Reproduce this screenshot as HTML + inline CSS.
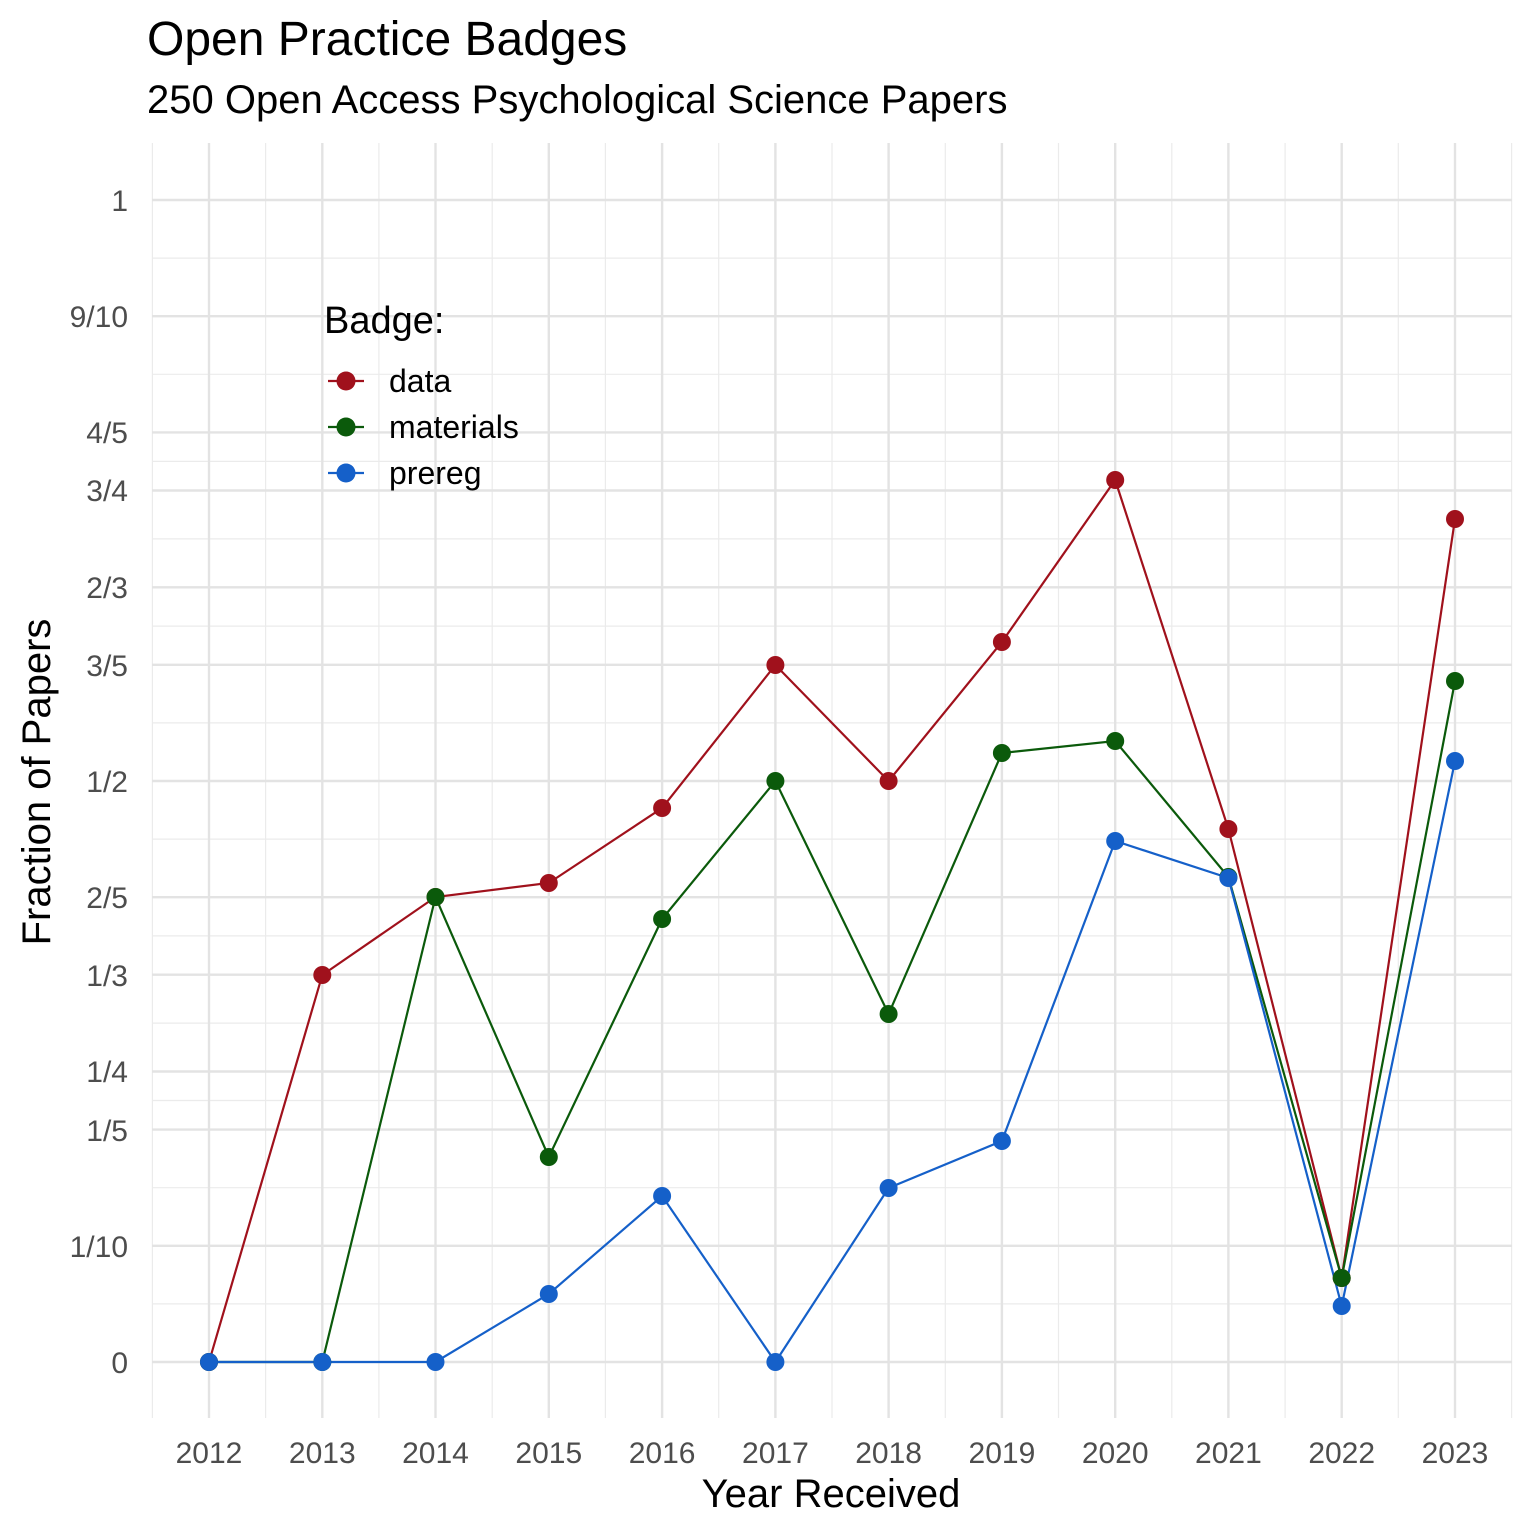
<!DOCTYPE html>
<html><head><meta charset="utf-8"><style>body{margin:0;background:#fff}svg{display:block}</style></head><body>
<svg width="1536" height="1536" xmlns="http://www.w3.org/2000/svg" font-family="Liberation Sans, Arial, sans-serif">
<rect width="1536" height="1536" fill="#fff"/>
<g stroke="#ebebeb" stroke-width="1.2">
<line x1="152" x2="1512" y1="1303.9" y2="1303.9"/><line x1="152" x2="1512" y1="1187.7" y2="1187.7"/><line x1="152" x2="1512" y1="1100.5" y2="1100.5"/><line x1="152" x2="1512" y1="1023.1" y2="1023.1"/><line x1="152" x2="1512" y1="935.9" y2="935.9"/><line x1="152" x2="1512" y1="839.1" y2="839.1"/><line x1="152" x2="1512" y1="722.9" y2="722.9"/><line x1="152" x2="1512" y1="626.1" y2="626.1"/><line x1="152" x2="1512" y1="538.9" y2="538.9"/><line x1="152" x2="1512" y1="461.4" y2="461.4"/><line x1="152" x2="1512" y1="374.3" y2="374.3"/><line x1="152" x2="1512" y1="258.1" y2="258.1"/>
<line y1="143" y2="1418" x1="152.4" x2="152.4"/><line y1="143" y2="1418" x1="265.6" x2="265.6"/><line y1="143" y2="1418" x1="378.9" x2="378.9"/><line y1="143" y2="1418" x1="492.2" x2="492.2"/><line y1="143" y2="1418" x1="605.4" x2="605.4"/><line y1="143" y2="1418" x1="718.7" x2="718.7"/><line y1="143" y2="1418" x1="832" x2="832"/><line y1="143" y2="1418" x1="945.3" x2="945.3"/><line y1="143" y2="1418" x1="1058.5" x2="1058.5"/><line y1="143" y2="1418" x1="1171.8" x2="1171.8"/><line y1="143" y2="1418" x1="1285.1" x2="1285.1"/><line y1="143" y2="1418" x1="1398.3" x2="1398.3"/><line y1="143" y2="1418" x1="1511.6" x2="1511.6"/>
</g>
<g stroke="#e3e3e3" stroke-width="2.4">
<line x1="152" x2="1512" y1="1362" y2="1362"/><line x1="152" x2="1512" y1="1245.8" y2="1245.8"/><line x1="152" x2="1512" y1="1129.6" y2="1129.6"/><line x1="152" x2="1512" y1="1071.5" y2="1071.5"/><line x1="152" x2="1512" y1="974.7" y2="974.7"/><line x1="152" x2="1512" y1="897.2" y2="897.2"/><line x1="152" x2="1512" y1="781" y2="781"/><line x1="152" x2="1512" y1="664.8" y2="664.8"/><line x1="152" x2="1512" y1="587.3" y2="587.3"/><line x1="152" x2="1512" y1="490.5" y2="490.5"/><line x1="152" x2="1512" y1="432.4" y2="432.4"/><line x1="152" x2="1512" y1="316.2" y2="316.2"/><line x1="152" x2="1512" y1="200" y2="200"/>
<line y1="143" y2="1418" x1="209" x2="209"/><line y1="143" y2="1418" x1="322.3" x2="322.3"/><line y1="143" y2="1418" x1="435.5" x2="435.5"/><line y1="143" y2="1418" x1="548.8" x2="548.8"/><line y1="143" y2="1418" x1="662.1" x2="662.1"/><line y1="143" y2="1418" x1="775.4" x2="775.4"/><line y1="143" y2="1418" x1="888.6" x2="888.6"/><line y1="143" y2="1418" x1="1001.9" x2="1001.9"/><line y1="143" y2="1418" x1="1115.2" x2="1115.2"/><line y1="143" y2="1418" x1="1228.4" x2="1228.4"/><line y1="143" y2="1418" x1="1341.7" x2="1341.7"/><line y1="143" y2="1418" x1="1455" x2="1455"/>
</g>
<text x="147" y="55" font-size="48" fill="#000">Open Practice Badges</text>
<text x="147" y="113" font-size="40" fill="#000">250 Open Access Psychological Science Papers</text>
<g font-size="30" fill="#4d4d4d" text-anchor="end">
<text x="128" y="1373">0</text><text x="128" y="1257">1/10</text><text x="128" y="1141">1/5</text><text x="128" y="1082">1/4</text><text x="128" y="986">1/3</text><text x="128" y="908">2/5</text><text x="128" y="792">1/2</text><text x="128" y="676">3/5</text><text x="128" y="598">2/3</text><text x="128" y="501">3/4</text><text x="128" y="443">4/5</text><text x="128" y="327">9/10</text><text x="128" y="211">1</text>
</g>
<g font-size="30" fill="#4d4d4d" text-anchor="middle">
<text x="209" y="1463">2012</text><text x="322.3" y="1463">2013</text><text x="435.5" y="1463">2014</text><text x="548.8" y="1463">2015</text><text x="662.1" y="1463">2016</text><text x="775.4" y="1463">2017</text><text x="888.6" y="1463">2018</text><text x="1001.9" y="1463">2019</text><text x="1115.2" y="1463">2020</text><text x="1228.4" y="1463">2021</text><text x="1341.7" y="1463">2022</text><text x="1455" y="1463">2023</text>
</g>
<text x="831" y="1507" font-size="40" text-anchor="middle" fill="#000">Year Received</text>
<text transform="translate(50,782) rotate(-90)" font-size="40" text-anchor="middle" fill="#000">Fraction of Papers</text>
<g fill="none" stroke-width="2.2">
<polyline stroke="#a0111c" points="209,1362 322.3,975 435.5,897 548.8,883 662.1,808 775.4,665 888.6,781 1001.9,642 1115.2,480 1228.4,829 1341.7,1278 1455,519"/>
<polyline stroke="#0b5a0b" points="209,1362 322.3,1362 435.5,897 548.8,1157 662.1,919 775.4,781 888.6,1014 1001.9,753 1115.2,741 1228.4,877 1341.7,1278 1455,681"/>
<polyline stroke="#1560c9" points="209,1362 322.3,1362 435.5,1362 548.8,1294 662.1,1196 775.4,1362 888.6,1188 1001.9,1141 1115.2,841 1228.4,878 1341.7,1306 1455,761"/>
</g>
<g fill="#a0111c"><circle cx="209" cy="1362" r="9"/><circle cx="322.3" cy="975" r="9"/><circle cx="435.5" cy="897" r="9"/><circle cx="548.8" cy="883" r="9"/><circle cx="662.1" cy="808" r="9"/><circle cx="775.4" cy="665" r="9"/><circle cx="888.6" cy="781" r="9"/><circle cx="1001.9" cy="642" r="9"/><circle cx="1115.2" cy="480" r="9"/><circle cx="1228.4" cy="829" r="9"/><circle cx="1341.7" cy="1278" r="9"/><circle cx="1455" cy="519" r="9"/></g>
<g fill="#0b5a0b"><circle cx="209" cy="1362" r="9"/><circle cx="322.3" cy="1362" r="9"/><circle cx="435.5" cy="897" r="9"/><circle cx="548.8" cy="1157" r="9"/><circle cx="662.1" cy="919" r="9"/><circle cx="775.4" cy="781" r="9"/><circle cx="888.6" cy="1014" r="9"/><circle cx="1001.9" cy="753" r="9"/><circle cx="1115.2" cy="741" r="9"/><circle cx="1228.4" cy="877" r="9"/><circle cx="1341.7" cy="1278" r="9"/><circle cx="1455" cy="681" r="9"/></g>
<g fill="#1560c9"><circle cx="209" cy="1362" r="9"/><circle cx="322.3" cy="1362" r="9"/><circle cx="435.5" cy="1362" r="9"/><circle cx="548.8" cy="1294" r="9"/><circle cx="662.1" cy="1196" r="9"/><circle cx="775.4" cy="1362" r="9"/><circle cx="888.6" cy="1188" r="9"/><circle cx="1001.9" cy="1141" r="9"/><circle cx="1115.2" cy="841" r="9"/><circle cx="1228.4" cy="878" r="9"/><circle cx="1341.7" cy="1306" r="9"/><circle cx="1455" cy="761" r="9"/></g>
<g fill="#000">
<text x="324" y="333" font-size="38">Badge:</text>
<line x1="328" y1="381" x2="364" y2="381" stroke="#a0111c" stroke-width="2.2"/><circle cx="346" cy="381" r="9.5" fill="#a0111c"/><text x="389" y="392" font-size="32">data</text>
<line x1="328" y1="427" x2="364" y2="427" stroke="#0b5a0b" stroke-width="2.2"/><circle cx="346" cy="427" r="9.5" fill="#0b5a0b"/><text x="389" y="438" font-size="32">materials</text>
<line x1="328" y1="473" x2="364" y2="473" stroke="#1560c9" stroke-width="2.2"/><circle cx="346" cy="473" r="9.5" fill="#1560c9"/><text x="389" y="484" font-size="32">prereg</text>
</g>
</svg>
</body></html>
